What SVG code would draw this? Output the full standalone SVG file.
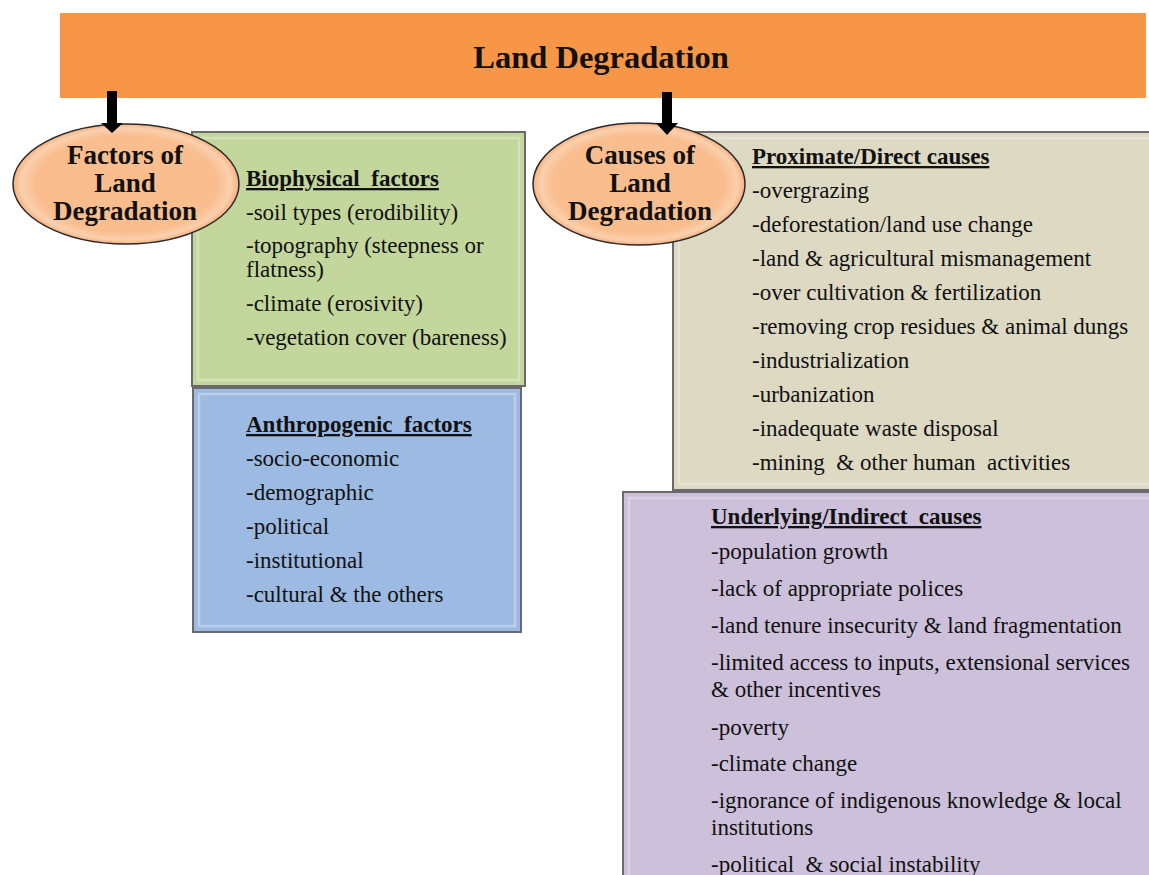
<svg xmlns="http://www.w3.org/2000/svg" width="1149" height="875" viewBox="0 0 1149 875">
<style>
.t{font-family:"Liberation Serif","Times New Roman",serif;font-size:23px;fill:#111}
.h{font-family:"Liberation Serif","Times New Roman",serif;font-size:23px;font-weight:bold;fill:#111;text-decoration:underline}
.e{font-family:"Liberation Serif","Times New Roman",serif;font-size:27px;font-weight:bold;fill:#111;text-anchor:middle}
.box{stroke:#6a6a6a;stroke-width:2}
.bev{fill:none;stroke:#ffffff;stroke-opacity:0.3;stroke-width:2.5}
.ell{fill:url(#peach);stroke:#2a2a2a;stroke-width:1.5}
.arr{fill:#000}
</style>
<defs>
<radialGradient id="peach" cx="50%" cy="50%" r="50%">
<stop offset="0.8" stop-color="#F9BD8E"/>
<stop offset="0.93" stop-color="#FBD0AE"/>
<stop offset="1" stop-color="#F6B080"/>
</radialGradient>
</defs>
<rect width="1149" height="875" fill="#ffffff"/>
<g id="title">
<rect x="60" y="13" width="1086" height="85" fill="#F79646"/>
<text x="601" y="68" font-family="Liberation Serif, serif" font-size="32.5" font-weight="bold" fill="#111" text-anchor="middle">Land Degradation</text>
</g>
<g id="biophysical">
<rect class="box" x="192" y="132" width="333" height="254" fill="#C3D69B"/>
<rect class="bev" x="198" y="138" width="321" height="242"/>
<text class="h" x="246" y="186" xml:space="preserve">Biophysical  factors</text>
<text class="t" x="246" y="220">-soil types (erodibility)</text>
<text class="t" x="246" y="253">-topography (steepness or</text>
<text class="t" x="246" y="277">flatness)</text>
<text class="t" x="246" y="311">-climate (erosivity)</text>
<text class="t" x="246" y="345">-vegetation cover (bareness)</text>
</g>
<g id="anthropogenic">
<rect class="box" x="193" y="388" width="328" height="244" fill="#9CBAE2"/>
<rect class="bev" x="199" y="394" width="316" height="232"/>
<text class="h" x="246" y="432" xml:space="preserve">Anthropogenic  factors</text>
<text class="t" x="246" y="466">-socio-economic</text>
<text class="t" x="246" y="500">-demographic</text>
<text class="t" x="246" y="534">-political</text>
<text class="t" x="246" y="568">-institutional</text>
<text class="t" x="246" y="602">-cultural &amp; the others</text>
</g>
<g id="proximate">
<rect class="box" x="673" y="132" width="490" height="358" fill="#DDD9C3"/>
<rect class="bev" x="679" y="138" width="478" height="346"/>
<text class="h" x="752" y="164">Proximate/Direct causes</text>
<text class="t" x="752" y="198">-overgrazing</text>
<text class="t" x="752" y="232">-deforestation/land use change</text>
<text class="t" x="752" y="266">-land &amp; agricultural mismanagement</text>
<text class="t" x="752" y="300">-over cultivation &amp; fertilization</text>
<text class="t" x="752" y="334">-removing crop residues &amp; animal dungs</text>
<text class="t" x="752" y="368">-industrialization</text>
<text class="t" x="752" y="402">-urbanization</text>
<text class="t" x="752" y="436">-inadequate waste disposal</text>
<text class="t" x="752" y="470" xml:space="preserve">-mining  &amp; other human  activities</text>
</g>
<g id="underlying">
<rect class="box" x="623" y="492" width="540" height="400" fill="#CCC0DA"/>
<rect class="bev" x="629" y="498" width="528" height="390"/>
<text class="h" x="711" y="524" xml:space="preserve">Underlying/Indirect  causes</text>
<text class="t" x="711" y="559">-population growth</text>
<text class="t" x="711" y="596">-lack of appropriate polices</text>
<text class="t" x="711" y="633">-land tenure insecurity &amp; land fragmentation</text>
<text class="t" x="711" y="670">-limited access to inputs, extensional services</text>
<text class="t" x="711" y="697">&amp; other incentives</text>
<text class="t" x="711" y="735">-poverty</text>
<text class="t" x="711" y="771">-climate change</text>
<text class="t" x="711" y="808">-ignorance of indigenous knowledge &amp; local</text>
<text class="t" x="711" y="835">institutions</text>
<text class="t" x="711" y="872" xml:space="preserve">-political  &amp; social instability</text>
</g>
<g id="factors">
<ellipse class="ell" cx="126" cy="184" rx="113" ry="60"/>
<text class="e" x="125" y="164">Factors of</text>
<text class="e" x="125" y="192">Land</text>
<text class="e" x="125" y="220">Degradation</text>
</g>
<g id="causes">
<ellipse class="ell" cx="639" cy="184" rx="106" ry="61"/>
<text class="e" x="640" y="164">Causes of</text>
<text class="e" x="640" y="192">Land</text>
<text class="e" x="640" y="220">Degradation</text>
</g>
<g id="connectors">
<path class="arr" d="M107,91 H117 V123 H123 L112,133 L101,123 H107 Z"/>
<path class="arr" d="M662,92 H672 V123 H678 L667,135 L656,123 H662 Z"/>
</g>
</svg>
